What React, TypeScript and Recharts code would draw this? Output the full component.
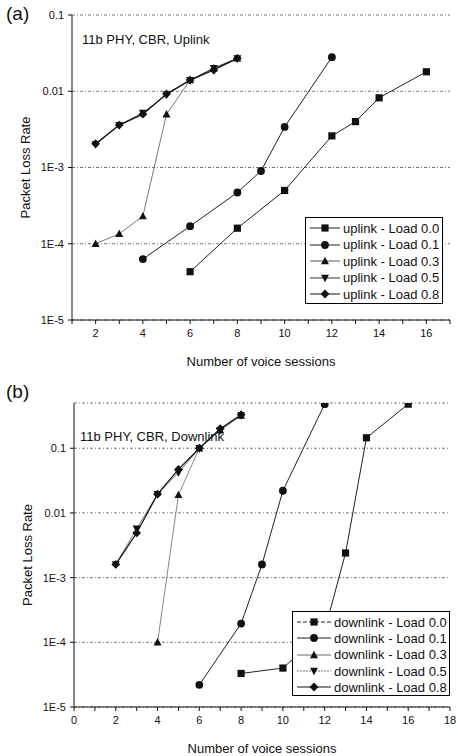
import React from 'react';
import { LineChart, Line, XAxis, YAxis, CartesianGrid, Legend, Label } from 'recharts';

// uplink (a)
const upX0 = [6, 8, 10, 12, 13, 14, 16];
const upY0 = [4.3e-5, 1.6e-4, 5e-4, 2.6e-3, 4e-3, 8.2e-3, 0.018];
const upX1 = [4, 6, 8, 9, 10, 12];
const upY1 = [6.3e-5, 1.7e-4, 4.7e-4, 9e-4, 3.4e-3, 0.028];
const upX3 = [2, 3, 4, 5, 6, 7, 8];
const upY3 = [1e-4, 1.35e-4, 2.3e-4, 5e-3, 0.014, 0.02, 0.027];
const upX5 = [2, 3, 4, 5, 6, 7, 8];
const upY5 = [2e-3, 3.6e-3, 5.2e-3, 9e-3, 0.014, 0.02, 0.027];
const upX8 = [2, 3, 4, 5, 6, 7, 8];
const upY8 = [2.05e-3, 3.6e-3, 5e-3, 9.2e-3, 0.014, 0.019, 0.027];

// downlink (b)
const dnX0 = [8, 10, 12, 13, 14, 16];
const dnY0 = [3.3e-5, 4e-5, 1.5e-4, 2.4e-3, 0.145, 0.48];
const dnX1 = [6, 8, 9, 10, 12];
const dnY1 = [2.2e-5, 1.95e-4, 1.6e-3, 0.022, 0.48];
const dnX3 = [4, 5, 6, 7, 8];
const dnY3 = [1e-4, 0.019, 0.1, 0.19, 0.32];
const dnX5 = [2, 3, 4, 5, 6, 7, 8];
const dnY5 = [1.6e-3, 5.7e-3, 0.0195, 0.042, 0.1, 0.19, 0.32];
const dnX8 = [2, 3, 4, 5, 6, 7, 8];
const dnY8 = [1.6e-3, 4.9e-3, 0.0195, 0.047, 0.1, 0.2, 0.33];

const loads = ['0.0', '0.1', '0.3', '0.5', '0.8'];
const shapes = ['square', 'circle', 'up', 'down', 'diamond'];
const upTicksX = [1, 2, 3, 4, 5, 6, 7, 8, 9, 10, 11, 12, 13, 14, 15, 16, 17];
const dnTicksX = [0, 1, 2, 3, 4, 5, 6, 7, 8, 9, 10, 11, 12, 13, 14, 15, 16, 17, 18];
const upTicksY = [1e-5, 1e-4, 1e-3, 0.01, 0.1];
const dnTicksY = [1e-5, 1e-4, 1e-3, 0.01, 0.1];
const yTickLabels = ['1E-5', '1E-4', '1E-3', '0.01', '0.1'];

const FONT = '"Liberation Sans", Arial, sans-serif';

const toPts = (xs: number[], ys: number[]) => xs.map((x, i) => ({ x, y: ys[i] }));

function Mark({ cx, cy, shape, fill }: { cx: number; cy: number; shape: string; fill: string }) {
  const r = 3.6;
  if (cx == null || cy == null) return null;
  if (shape === 'square') return <rect x={cx - r} y={cy - r} width={2 * r} height={2 * r} fill={fill} />;
  if (shape === 'circle') return <circle cx={cx} cy={cy} r={r + 0.3} fill={fill} />;
  if (shape === 'up') return <polygon points={`${cx},${cy - r - 0.6} ${cx + r + 0.4},${cy + r - 0.4} ${cx - r - 0.4},${cy + r - 0.4}`} fill={fill} />;
  if (shape === 'down') return <polygon points={`${cx},${cy + r + 0.6} ${cx + r + 0.4},${cy - r + 0.4} ${cx - r - 0.4},${cy - r + 0.4}`} fill={fill} />;
  return <polygon points={`${cx},${cy - r - 0.8} ${cx + r + 0.8},${cy} ${cx},${cy + r + 0.8} ${cx - r - 0.8},${cy}`} fill={fill} />;
}

type Series = { name: string; data: { x: number; y: number }[]; shape: string; stroke: string; dash?: string; legendDash?: string; width: number };

const upSeries: Series[] = [
  { name: 'uplink - Load ' + loads[0], data: toPts(upX0, upY0), shape: shapes[0], stroke: '#222', width: 1 },
  { name: 'uplink - Load ' + loads[1], data: toPts(upX1, upY1), shape: shapes[1], stroke: '#222', width: 1 },
  { name: 'uplink - Load ' + loads[2], data: toPts(upX3, upY3), shape: shapes[2], stroke: '#555', width: 0.8 },
  { name: 'uplink - Load ' + loads[3], data: toPts(upX5, upY5), shape: shapes[3], stroke: '#333', width: 1 },
  { name: 'uplink - Load ' + loads[4], data: toPts(upX8, upY8), shape: shapes[4], stroke: '#111', width: 1.2 },
];

const dnSeries: Series[] = [
  { name: 'downlink - Load ' + loads[0], data: toPts(dnX0, dnY0), shape: shapes[0], stroke: '#222', legendDash: '4 2', width: 1 },
  { name: 'downlink - Load ' + loads[1], data: toPts(dnX1, dnY1), shape: shapes[1], stroke: '#222', width: 1 },
  { name: 'downlink - Load ' + loads[2], data: toPts(dnX3, dnY3), shape: shapes[2], stroke: '#666', width: 0.8 },
  { name: 'downlink - Load ' + loads[3], data: toPts(dnX5, dnY5), shape: shapes[3], stroke: '#777', legendDash: '2 1', width: 1 },
  { name: 'downlink - Load ' + loads[4], data: toPts(dnX8, dnY8), shape: shapes[4], stroke: '#111', width: 1.2 },
];

function LegendBox({ series, segW, rowH }: { series: Series[]; segW: number; rowH: number }) {
  return (
    <div style={{ border: '1px solid #000', background: '#fff', boxSizing: 'border-box', padding: '2px 0 0 4px', fontFamily: FONT, fontSize: 13, color: '#111' }}>
      {series.map((s) => (
        <div key={s.name} style={{ display: 'flex', alignItems: 'center', height: rowH }}>
          <svg width={segW} height={10} style={{ marginRight: 3 }}>
            <line x1={0} y1={5} x2={segW} y2={5} stroke={s.stroke} strokeWidth={1} strokeDasharray={s.legendDash ?? s.dash} />
            <Mark cx={segW / 2} cy={5} shape={s.shape} fill="#111" />
          </svg>
          <span style={{ whiteSpace: 'nowrap' }}>{s.name}</span>
        </div>
      ))}
    </div>
  );
}

const YTitle = (props: any) => {
  const vb = props.viewBox || {};
  const cy = vb.y + vb.height / 2;
  return (
    <text x={props.tx} y={cy} transform={`rotate(-90, ${props.tx}, ${cy})`} textAnchor="middle" dominantBaseline="central"
      style={{ fontFamily: FONT, fontSize: 13, fill: '#111' }}>Packet Loss Rate</text>
  );
};

function Panel({ series, width, height, margin, yAxisW, xAxisH, xDomain, xTicks, yDomain, yTicks, xLabelOffset, legendStyle, segW, rowH, ytx }: any) {
  const tickStyle = { fontFamily: FONT, fontSize: 11, fill: '#111' };
  return (
    <LineChart width={width} height={height} margin={margin}>
      <CartesianGrid horizontal vertical={false} stroke="#777" strokeDasharray="3 2 1 2" />
      <XAxis dataKey="x" type="number" domain={xDomain} ticks={xTicks} allowDataOverflow height={xAxisH}
        tickFormatter={(v: number) => (v % 2 === 0 ? String(v) : '')} tick={tickStyle} tickSize={4} tickMargin={5}
        stroke="#111" interval={0}>
        <Label value="Number of voice sessions" position="insideBottom" offset={xLabelOffset}
          style={{ fontFamily: FONT, fontSize: 13, fill: '#111' }} />
      </XAxis>
      <XAxis xAxisId="top" orientation="top" dataKey="x" type="number" domain={xDomain} ticks={xTicks} allowDataOverflow
        height={0} mirror tickFormatter={() => ''} tickSize={4} stroke="#111" interval={0} />
      <YAxis dataKey="y" scale="log" domain={yDomain} allowDataOverflow ticks={yTicks} width={yAxisW}
        tickFormatter={(v: number) => yTickLabels[yTicks.indexOf(v)] ?? ''} tick={tickStyle} tickSize={4} tickMargin={4}
        stroke="#111" interval={0}>
        <Label content={<YTitle tx={ytx} />} />
      </YAxis>
      <YAxis yAxisId="r" orientation="right" scale="log" domain={yDomain} allowDataOverflow ticks={yTicks} width={0}
        mirror tickFormatter={() => ''} tickSize={4} stroke="#111" />
      {series.map((s: Series) => (
        <Line key={s.name} data={s.data} dataKey="y" name={s.name} stroke={s.stroke} strokeWidth={s.width}
          strokeDasharray={s.dash} isAnimationActive={false}
          dot={(p: any) => <Mark key={s.name + p.index} cx={p.cx} cy={p.cy} shape={s.shape} fill="#111" />}
          activeDot={false} />
      ))}
      <Legend layout="vertical" align="center" verticalAlign="middle" wrapperStyle={legendStyle}
        content={() => <LegendBox series={series} segW={segW} rowH={rowH} />} />
    </LineChart>
  );
}

export default function App() {
  return (
    <div style={{ position: 'absolute', left: 0, top: 0, width: 458, height: 756, background: '#fff', fontFamily: FONT, overflow: 'hidden' }}>
      <div style={{ position: 'absolute', left: 0, top: 0 }}>
        <Panel series={upSeries} width={458} height={370} margin={{ top: 15, right: 8, left: 0, bottom: 0 }}
          yAxisW={72} xAxisH={50} xDomain={[1, 17]} xTicks={upTicksX} yDomain={[1e-5, 0.1]} yTicks={upTicksY}
          xLabelOffset={4} legendStyle={{ left: 305, top: 217, width: 138, height: 93 }} segW={30} rowH={16.5} ytx={25} />
      </div>
      <div style={{ position: 'absolute', left: 0, top: 370 }}>
        <Panel series={dnSeries} width={458} height={386} margin={{ top: 33, right: 8, left: 0, bottom: 0 }}
          yAxisW={74} xAxisH={49} xDomain={[0, 18]} xTicks={dnTicksX} yDomain={[1e-5, 0.5]} yTicks={dnTicksY}
          xLabelOffset={3} legendStyle={{ left: 292, top: 241, width: 158, height: 91 }} segW={34} rowH={16.3} ytx={27} />
      </div>
      <div style={{ position: 'absolute', left: 6, top: 3, fontSize: 19, color: '#111' }}>(a)</div>
      <div style={{ position: 'absolute', left: 6, top: 381, fontSize: 19, color: '#111' }}>(b)</div>
      <div style={{ position: 'absolute', left: 82, top: 32, fontSize: 13, color: '#111' }}>11b PHY, CBR, Uplink</div>
      <div style={{ position: 'absolute', left: 80, top: 429, fontSize: 13, color: '#111' }}>11b PHY, CBR, Downlink</div>
    </div>
  );
}
